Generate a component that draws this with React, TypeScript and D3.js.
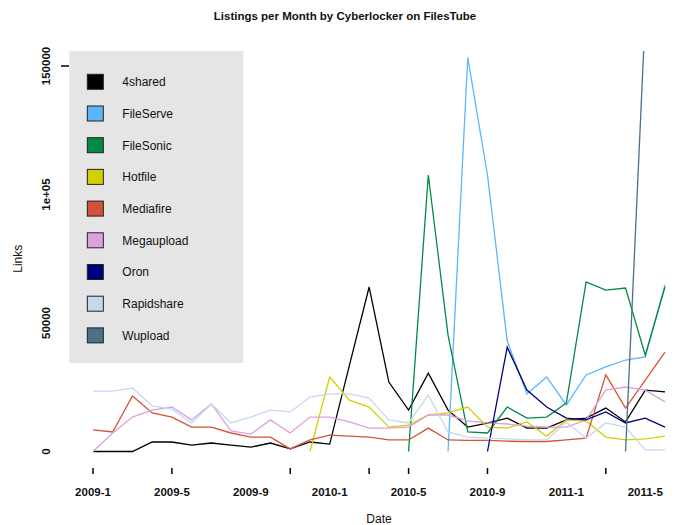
import React from "react";
import * as d3 from "d3";

const title = "Listings per Month by Cyberlocker on FilesTube";
const months = d3.range(30); // 2009-1 .. 2011-6 monthly index
const xTickMarks = [0, 4, 10, 14, 16, 20, 26];
const xTickLabels = ["2009-1", "2009-5", "2009-9", "2010-1", "2010-5", "2010-9", "2011-1", "2011-5"];
const xTickLabelAt = [0, 4, 8, 12, 16, 20, 24, 28];
const yTicks = [0, 50000, 100000, 150000];
const yTickLabels = ["0", "50000", "1e+05", "150000"];
const yTickMarksVisible = [150000];

const names = ["4shared", "FileServe", "FileSonic", "Hotfile", "Mediafire", "Megaupload", "Oron", "Rapidshare", "Wupload"];
const colors = ["#000000", "#5cb4ff", "#008a45", "#d4d000", "#d4523a", "#dea0dc", "#00007f", "#c4d8f0", "#4d7089"];

const N = null;
const s4shared = [0, 0, 0, 3700, 3700, 2500, 3300, 2500, 1700, 3300, 1000, 3700, 2900, 33500, 64000, 27000, 16100, 30500, 16100, 9500, 11000, 13000, 9100, 9100, 12300, 13000, 16900, 11500, 23900, 23200];
const sFileServe = [N, N, N, N, N, N, N, N, N, N, N, N, N, N, N, N, N, N, 0, 153300, 107600, 43000, 22400, 29000, 18100, 29800, 32900, 35600, 36800, 64800];
const sFileSonic = [N, N, N, N, N, N, N, N, N, N, N, N, N, N, N, N, 0, 107600, 45300, 7600, 7200, 17300, 13000, 13400, 18900, 66000, 62800, 63600, 37500, 64000];
const sHotfile = [N, N, N, N, N, N, N, N, N, N, N, 0, 29000, 20000, 17300, 9500, 10300, 14200, 15000, 17300, 9500, 9100, 11500, 6000, 12300, 11900, 5600, 4500, 4900, 6000];
const sMediafire = [8400, 7600, 21600, 15000, 13400, 9500, 9500, 7200, 5600, 5600, 1000, 4500, 6400, 6000, 5600, 4500, 4500, 9100, 4500, 4300, 4300, 4000, 3900, 3900, 4500, 5200, 29800, 16900, 27800, 38700];
const sMegaupload = [0, 7200, 13400, 16100, 17300, 12300, 18500, 8000, 6800, 12300, 7200, 13400, 13400, 11500, 9100, 9100, 9500, 14200, 14200, 11900, 11100, 10700, 9900, 9500, 9500, 12300, 23900, 25100, 23900, 19300];
const sOron = [N, N, N, N, N, N, N, N, N, N, N, N, N, N, N, N, N, N, N, N, 0, 40600, 23900, 17300, 13000, 12300, 15400, 11100, 13000, 9500];
const sRapidshare = [23500, 23500, 24700, 17700, 16500, 11100, 18500, 11100, 13400, 16100, 15400, 21200, 22400, 22400, 20800, 12300, 11100, 22000, 7600, 5600, 5200, 4900, 4500, 4500, 11500, 5200, 11100, 9500, 600, 600];
const sWupload = [N, N, N, N, N, N, N, N, N, N, N, N, N, N, N, N, N, N, N, N, N, N, N, N, N, N, N, 0, 170000, N];

const seriesValues = [s4shared, sFileServe, sFileSonic, sHotfile, sMediafire, sMegaupload, sOron, sRapidshare, sWupload];

const W = 678;
const H = 525;

export default function App() {
  const x = d3.scaleLinear().domain([0, 29]).range([93, 665]);
  const y = d3.scaleLinear().domain([0, 150000]).range([451.5, 66]);
  const xExt = [-1.2, 30.2];
  const yExt = [-6000, 155800];
  const clipX0 = x(xExt[0]);
  const clipX1 = x(xExt[1]);
  const clipY0 = y(yExt[1]);
  const clipY1 = y(yExt[0]);

  const line = d3
    .line<number | null>()
    .defined((d) => d != null)
    .x((_, i) => x(months[i]))
    .y((d) => y(d as number));

  const font = "'Liberation Sans', Arial, Helvetica, sans-serif";
  const legendX = clipX0;
  const legendY = clipY0;
  const legendW = 174;
  const legendH = 312;
  const rowH = 31.7;

  return (
    <svg
      width={W}
      height={H}
      style={{ position: "absolute", left: 0, top: 0, background: "#fff" }}
      fontFamily={font}
    >
      <defs>
        <clipPath id="plotclip">
          <rect x={clipX0} y={clipY0} width={clipX1 - clipX0} height={clipY1 - clipY0} />
        </clipPath>
      </defs>
      <text x={345} y={20} textAnchor="middle" fontSize={11.5} fontWeight="bold" fill="#111">
        {title}
      </text>

      {/* legend background */}
      <rect x={legendX} y={legendY} width={legendW} height={legendH} fill="#e5e5e5" />

      <g clipPath="url(#plotclip)">
        {seriesValues.map((vals, k) => (
          <path key={names[k]} d={line(vals) || ""} fill="none" stroke={colors[k]} strokeWidth={1.3} />
        ))}
      </g>

      {/* legend entries */}
      {names.map((n, k) => {
        const cy = legendY + 30.7 + k * rowH;
        return (
          <g key={n}>
            <rect x={legendX + 18} y={cy - 7.5} width={16} height={15} fill={colors[k]} stroke="#222" strokeWidth={1} />
            <text x={legendX + 53} y={cy + 4.5} fontSize={12} fill="#111">
              {n}
            </text>
          </g>
        );
      })}

      {/* y axis */}
      {yTickMarksVisible.map((v) => (
        <line key={v} x1={61} x2={69} y1={y(v)} y2={y(v)} stroke="#000" strokeWidth={1.5} />
      ))}
      {yTicks.map((v, i) => (
        <text
          key={v}
          transform={`translate(50,${y(v)}) rotate(-90)`}
          textAnchor="middle"
          fontSize={11.5}
          fontWeight="bold"
          fill="#111"
        >
          {yTickLabels[i]}
        </text>
      ))}
      <text transform={`translate(22,${y(75000)}) rotate(-90)`} textAnchor="middle" fontSize={12} fill="#111">
        Links
      </text>

      {/* x axis */}
      {xTickMarks.map((v) => (
        <line key={v} x1={x(v)} x2={x(v)} y1={468} y2={474} stroke="#000" strokeWidth={1.5} />
      ))}
      {xTickLabelAt.map((v, i) => (
        <text key={v} x={x(v)} y={496} textAnchor="middle" fontSize={11.5} fontWeight="bold" fill="#111">
          {xTickLabels[i]}
        </text>
      ))}
      <text x={379} y={523} textAnchor="middle" fontSize={12} fill="#111">
        Date
      </text>
    </svg>
  );
}
